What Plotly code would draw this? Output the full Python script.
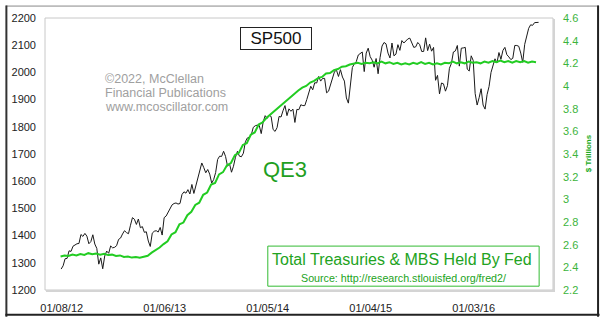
import plotly.graph_objects as go
import pandas as pd

# ---- data -------------------------------------------------------------
sp500 = [
    # 2012
    1277, 1289, 1315, 1316, 1344, 1342, 1361, 1366, 1370, 1371, 1404, 1397, 1408,
    1398, 1370, 1378, 1403, 1369, 1353, 1295, 1318, 1278, 1325, 1343, 1335, 1362,
    1355, 1357, 1363, 1386, 1391, 1406, 1418, 1411, 1407, 1438, 1466, 1460, 1441,
    1461, 1429, 1433, 1412, 1414, 1380, 1360, 1409, 1416, 1418, 1413, 1430, 1402,
    # 2013
    1466, 1472, 1486, 1503, 1513, 1518, 1520, 1516, 1518, 1551, 1561, 1556, 1569,
    1553, 1588, 1555, 1582, 1614, 1633, 1667, 1650, 1631, 1643, 1626, 1593, 1606,
    1632, 1680, 1692, 1691, 1710, 1691, 1655, 1664, 1633, 1655, 1688, 1710, 1692,
    1690, 1703, 1745, 1759, 1762, 1771, 1798, 1804, 1806, 1805, 1775, 1818, 1841,
    # 2014
    1831, 1842, 1838, 1790, 1783, 1797, 1838, 1836, 1859, 1878, 1841, 1866, 1857,
    1865, 1816, 1864, 1863, 1881, 1878, 1878, 1900, 1924, 1949, 1936, 1962, 1961,
    1985, 1968, 1978, 1978, 1925, 1931, 1955, 1988, 2003, 2008, 1985, 2010, 1983,
    1968, 1906, 1887, 1964, 2018, 2032, 2040, 2064, 2068, 2075, 2003, 2071, 2089,
    # 2015
    2058, 2045, 2019, 2051, 1995, 2055, 2097, 2110, 2105, 2071, 2053, 2108, 2061,
    2067, 2102, 2081, 2117, 2108, 2116, 2123, 2126, 2107, 2092, 2094, 2110, 2102,
    2077, 2077, 2127, 2080, 2104, 2078, 2092, 1971, 1989, 1921, 1961, 1958, 1931,
    1951, 2015, 2033, 2075, 2079, 2099, 2023, 2089, 2090, 2092, 2012, 2005, 2061,
    2044,
    # 2016
    1922, 1880, 1907, 1940, 1880, 1865, 1918, 1948, 2000, 2022, 2050, 2035, 2073,
    2048, 2081, 2092, 2065, 2057, 2047, 2052, 2099, 2099, 2096, 2071, 2037, 2103,
    2130, 2162, 2175, 2173, 2183, 2184, 2184,
]
sp_dates = pd.date_range("2012-01-06", periods=len(sp500), freq="W-FRI")

fed_holdings = [
    # 2012
    2.495, 2.505, 2.500, 2.512, 2.505, 2.518, 2.510, 2.525, 2.515, 2.522, 2.512,
    2.520, 2.508, 2.512, 2.500, 2.505, 2.492, 2.496, 2.486, 2.490, 2.484, 2.492,
    2.502, 2.530, 2.550, 2.575,
    # 2013
    2.605, 2.630, 2.690, 2.710, 2.780, 2.795, 2.860, 2.890, 2.950, 2.970, 3.040,
    3.060, 3.130, 3.145, 3.220, 3.240, 3.300, 3.320, 3.390, 3.410, 3.480, 3.495,
    3.570, 3.590, 3.660, 3.680,
    # 2014
    3.720, 3.750, 3.780, 3.815, 3.840, 3.875, 3.900, 3.935, 3.960, 3.985, 4.000,
    4.030, 4.045, 4.070, 4.080, 4.110, 4.115, 4.140, 4.150, 4.170, 4.175, 4.190,
    4.195, 4.205, 4.195, 4.205, 4.200,
    # 2015
    4.210, 4.200, 4.215, 4.200, 4.210, 4.195, 4.205, 4.190, 4.200, 4.190, 4.205,
    4.195, 4.210, 4.195, 4.205, 4.190, 4.200, 4.190, 4.205, 4.200, 4.215, 4.200,
    4.210, 4.200, 4.215, 4.205,
    # 2016
    4.210, 4.200, 4.215, 4.205, 4.220, 4.210, 4.225, 4.210, 4.220, 4.205, 4.220,
    4.210, 4.220, 4.205, 4.215, 4.210,
]
fed_dates = pd.date_range("2012-01-04", periods=len(fed_holdings), freq="2W-WED")

tick_dates = ["2012-01-08", "2013-01-06", "2014-01-05", "2015-01-04", "2016-01-03"]
tick_text = ["01/08/12", "01/06/13", "01/05/14", "01/04/15", "01/03/16"]

# ---- layout geometry (pixels) ----------------------------------------
W, H = 600, 326
L, R, T, B = 40, 47, 13, 28
PW, PH = W - L - R, H - T - B
def px(x):
    return (x - L) / PW
def py(y):
    return (H - B - y) / PH

FONT = "Arial, Liberation Sans, sans-serif"
GREEN_TXT = "#22a322"

fig = go.Figure()
fig.add_trace(go.Scatter(x=fed_dates, y=fed_holdings, yaxis="y2", mode="lines",
                         line=dict(color="#22cc22", width=2), hoverinfo="skip"))
fig.add_trace(go.Scatter(x=sp_dates, y=sp500, mode="lines",
                         line=dict(color="#1a1a1a", width=1), hoverinfo="skip"))

shapes = [
    # plot frame
    dict(type="rect", xref="paper", yref="paper", x0=0, x1=1, y0=0, y1=1,
         line=dict(color="#c8c8c8", width=1)),
    dict(type="line", xref="paper", yref="paper", x0=px(L + PW + 1), x1=px(L + PW + 1),
         y0=py(T + 1), y1=py(T + PH + 2), line=dict(color="#d4d4d4", width=2)),
    dict(type="line", xref="paper", yref="paper", x0=px(L + 1), x1=px(L + PW + 2),
         y0=py(T + PH + 1), y1=py(T + PH + 1), line=dict(color="#d4d4d4", width=2)),
    # legend box
    dict(type="rect", xref="paper", yref="paper", x0=px(265), x1=px(539),
         y0=py(294), y1=py(252), line=dict(color="#33bb33", width=1)),
    # outer frame
    dict(type="line", xref="paper", yref="paper", x0=px(0.5), x1=px(W - 0.5),
         y0=py(0.5), y1=py(0.5), line=dict(color="#888888", width=1)),
    dict(type="line", xref="paper", yref="paper", x0=px(1), x1=px(1),
         y0=py(0), y1=py(H), line=dict(color="#333333", width=2)),
    dict(type="line", xref="paper", yref="paper", x0=px(W - 1.5), x1=px(W - 1.5),
         y0=py(0), y1=py(H), line=dict(color="#222222", width=2)),
    dict(type="line", xref="paper", yref="paper", x0=px(0), x1=px(W),
         y0=py(H - 2), y1=py(H - 2), line=dict(color="#222222", width=2)),
]

annotations = [
    dict(text="SP500", x=px(273), y=py(34.5), xref="paper", yref="paper",
         showarrow=False, font=dict(family=FONT, size=17, color="#111"),
         bordercolor="#222", borderwidth=1, borderpad=1, width=68, height=19,
         xanchor="center", yanchor="middle"),
    dict(text="©2022, McClellan", x=px(99), y=py(77), xref="paper", yref="paper",
         showarrow=False, xanchor="left", yanchor="middle",
         font=dict(family=FONT, size=12.5, color="#a0a0a0")),
    dict(text="Financial Publications", x=px(99), y=py(91.5), xref="paper", yref="paper",
         showarrow=False, xanchor="left", yanchor="middle",
         font=dict(family=FONT, size=12.5, color="#a0a0a0")),
    dict(text="www.mcoscillator.com", x=px(99), y=py(106), xref="paper", yref="paper",
         showarrow=False, xanchor="left", yanchor="middle",
         font=dict(family=FONT, size=12.5, color="#a0a0a0")),
    dict(text="QE3", x=px(282), y=py(172), xref="paper", yref="paper",
         showarrow=False, xanchor="center", yanchor="middle",
         font=dict(family=FONT, size=22, color="#1f9f1f")),
    dict(text="Total Treasuries & MBS Held By Fed", x=px(401), y=py(266.5),
         xref="paper", yref="paper", showarrow=False, xanchor="center", yanchor="middle",
         font=dict(family=FONT, size=16, color=GREEN_TXT)),
    dict(text="Source: http://research.stlouisfed.org/fred2/", x=px(402), y=py(285),
         xref="paper", yref="paper", showarrow=False, xanchor="center", yanchor="middle",
         font=dict(family=FONT, size=10.7, color=GREEN_TXT)),
    dict(text="<b>$ Trillions</b>", x=px(589), y=py(155), xref="paper", yref="paper",
         showarrow=False, textangle=-90, xanchor="center", yanchor="middle",
         font=dict(family=FONT, size=8, color="#22aa22")),
]

fig.update_layout(
    width=W, height=H,
    margin=dict(l=L, r=R, t=T, b=B, pad=0),
    paper_bgcolor="white", plot_bgcolor="white",
    showlegend=False,
    font=dict(family=FONT),
    xaxis=dict(range=["2011-11-10", "2016-10-09"], type="date",
               tickvals=tick_dates, ticktext=tick_text, showgrid=False,
               zeroline=False, showline=False, ticks="", ticklabelstandoff=10,
               tickfont=dict(family=FONT, size=11, color="#222")),
    yaxis=dict(range=[1200, 2200], dtick=100, showgrid=False, zeroline=False,
               showline=False, ticks="", ticklabelstandoff=8,
               tickfont=dict(family=FONT, size=11, color="#222")),
    yaxis2=dict(range=[2.2, 4.6], dtick=0.2, overlaying="y", side="right",
                showgrid=False, zeroline=False, showline=False, ticks="",
                ticklabelstandoff=9, tickformat="~g",
                tickfont=dict(family=FONT, size=11, color="#3cb43c")),
    shapes=shapes,
    annotations=annotations,
)

fig.write_html("out.html")
